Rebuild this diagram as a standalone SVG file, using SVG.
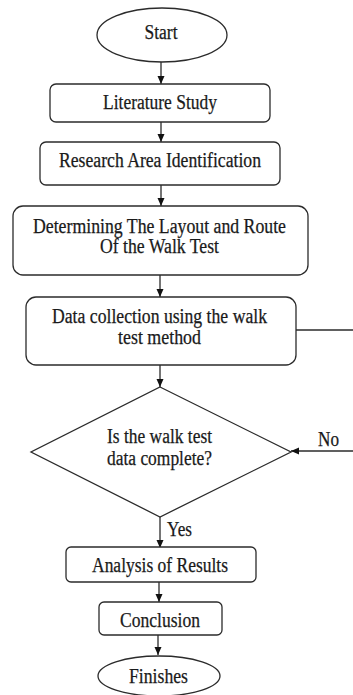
<svg xmlns="http://www.w3.org/2000/svg" width="353" height="695" viewBox="0 0 353 695">
<style>
.s{fill:#fff;stroke:#2b2b2b;stroke-width:1.3}
.t{font-family:'Liberation Serif','DejaVu Serif',serif;font-size:20px;fill:#1a1a1a;stroke:#1a1a1a;stroke-width:0.25;text-anchor:middle}
.c{stroke:#2b2b2b;stroke-width:1.3;fill:none}
</style>
<defs>
<marker id="ah" markerUnits="userSpaceOnUse" markerWidth="9" markerHeight="8" refX="8" refY="3.5" orient="auto">
<path d="M0,0 L8,3.5 L0,7 z" fill="#111"/>
</marker>
</defs>
<rect width="353" height="695" fill="#fff"/>
<g id="connectors">
<line class="c" x1="161" y1="62" x2="161" y2="84" marker-end="url(#ah)"/>
<line class="c" x1="161" y1="122" x2="161" y2="142" marker-end="url(#ah)"/>
<line class="c" x1="161" y1="185" x2="161" y2="206" marker-end="url(#ah)"/>
<line class="c" x1="160" y1="275" x2="160" y2="297" marker-end="url(#ah)"/>
<line class="c" x1="160" y1="365" x2="160" y2="387" marker-end="url(#ah)"/>
<line class="c" x1="160" y1="517" x2="160" y2="548" marker-end="url(#ah)"/>
<line class="c" x1="159" y1="582" x2="159" y2="602" marker-end="url(#ah)"/>
<line class="c" x1="158" y1="635" x2="158" y2="655" marker-end="url(#ah)"/>
<line class="c" x1="296" y1="330" x2="353" y2="330"/>
<line class="c" x1="353" y1="451" x2="291" y2="451" marker-end="url(#ah)" stroke="#555" stroke-width="1.6"/>
<text class="t" x="328.5" y="446" textLength="21" lengthAdjust="spacingAndGlyphs">No</text>
<text class="t" x="179.5" y="535.5" textLength="25" lengthAdjust="spacingAndGlyphs">Yes</text>
</g>
<g id="start">
<ellipse class="s" cx="162" cy="35" rx="65" ry="27"/>
<text class="t" x="161" y="39" textLength="33" lengthAdjust="spacingAndGlyphs">Start</text>
</g>
<g id="literature">
<rect class="s" x="50" y="84" width="220" height="38" rx="6"/>
<text class="t" x="160" y="109" textLength="114" lengthAdjust="spacingAndGlyphs">Literature Study</text>
</g>
<g id="research">
<rect class="s" x="40" y="142" width="240" height="43" rx="6"/>
<text class="t" x="160" y="166.5" textLength="202" lengthAdjust="spacingAndGlyphs">Research Area Identification</text>
</g>
<g id="layout">
<rect class="s" x="13" y="206" width="295" height="69" rx="10"/>
<text class="t" x="159.5" y="233" textLength="253" lengthAdjust="spacingAndGlyphs">Determining The Layout and Route</text>
<text class="t" x="159.5" y="253" textLength="119" lengthAdjust="spacingAndGlyphs">Of the Walk Test</text>
</g>
<g id="collection">
<rect class="s" x="26" y="297" width="270" height="68" rx="10"/>
<text class="t" x="159.5" y="322.5" textLength="215" lengthAdjust="spacingAndGlyphs">Data collection using the walk</text>
<text class="t" x="159.5" y="344" textLength="83" lengthAdjust="spacingAndGlyphs">test method</text>
</g>
<g id="decision">
<polygon class="s" points="160,387 291,452 160,517 31,452"/>
<text class="t" x="159.5" y="443" textLength="105" lengthAdjust="spacingAndGlyphs">Is the walk test</text>
<text class="t" x="159.5" y="465" textLength="105" lengthAdjust="spacingAndGlyphs">data complete?</text>
</g>
<g id="analysis">
<rect class="s" x="66" y="547" width="190" height="35" rx="5"/>
<text class="t" x="160" y="571.5" textLength="136" lengthAdjust="spacingAndGlyphs">Analysis of Results</text>
</g>
<g id="conclusion">
<rect class="s" x="99" y="602" width="123" height="33" rx="5"/>
<text class="t" x="160" y="627" textLength="80" lengthAdjust="spacingAndGlyphs">Conclusion</text>
</g>
<g id="finish">
<ellipse class="s" cx="159" cy="676" rx="61" ry="20"/>
<text class="t" x="158.5" y="683" textLength="59" lengthAdjust="spacingAndGlyphs">Finishes</text>
</g>
</svg>
